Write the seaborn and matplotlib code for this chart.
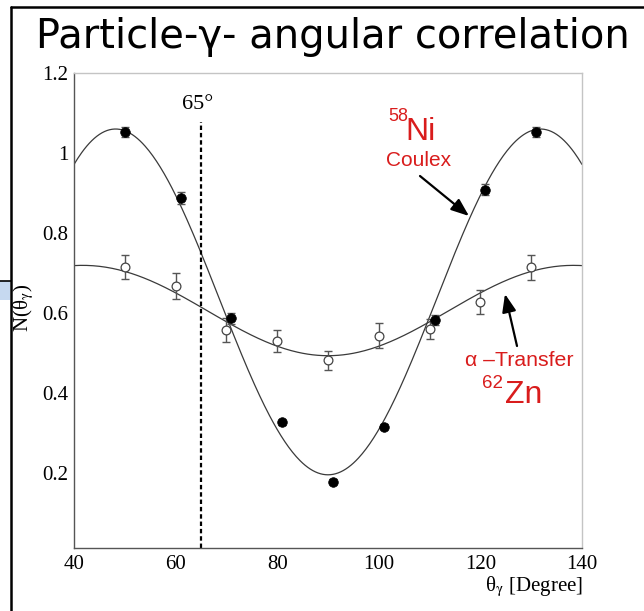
import numpy as np
import pandas as pd
import matplotlib
matplotlib.use("Agg")
import matplotlib.pyplot as plt
import seaborn as sns
from matplotlib.lines import Line2D
from matplotlib.patches import Rectangle
from matplotlib.ticker import MultipleLocator, FixedLocator

# ---------------- data ----------------
ni_theta = [50, 61, 71, 81, 91, 101, 111, 121, 131]
ni_counts = [1.053, 0.887, 0.587, 0.327, 0.178, 0.316, 0.583, 0.908, 1.053]
ni_err = [0.012, 0.015, 0.014, 0.006, 0.006, 0.006, 0.013, 0.014, 0.012]

zn_theta = [50, 60, 70, 80, 90, 100, 110, 120, 130]
zn_counts = [0.715, 0.667, 0.558, 0.530, 0.482, 0.543, 0.560, 0.627, 0.714]
zn_err = [0.030, 0.033, 0.030, 0.028, 0.024, 0.031, 0.026, 0.030, 0.031]

# Legendre fit coefficients W = c0 + c2 P2(cos) + c4 P4(cos)
ni_fit_coeffs = [0.617, 0.093, -1.0]
zn_fit_coeffs = [0.618, 0.125, -0.166]

x_ticks = [40, 60, 80, 100, 120, 140]
y_ticks = [0.2, 0.4, 0.6, 0.8, 1.0, 1.2]
y_tick_labels = ["0.2", "0.4", "0.6", "0.8", "1", "1.2"]
title_text = "Particle-\u03b3- angular correlation"
cut_angle = 65

# ---------------- figure ----------------
sns.set_theme(style="white")
plt.rcParams["font.family"] = ["Liberation Serif", "DejaVu Serif"]
plt.rcParams["mathtext.fontset"] = "stix"

W, H = 644, 611
fig = plt.figure(figsize=(W / 100, H / 100), dpi=100)
fig.patch.set_facecolor("white")

def fx(px):
    return px / W

def fy(py):
    return 1 - py / H

ax = fig.add_axes([fx(74), fy(548), fx(582) - fx(74), fy(73) - fy(548)])
ax.set_facecolor("white")

def legendre_curve(coeffs, theta):
    c = np.cos(np.radians(theta))
    p2 = 0.5 * (3 * c**2 - 1)
    p4 = (35 * c**4 - 30 * c**2 + 3) / 8
    return coeffs[0] + coeffs[1] * p2 + coeffs[2] * p4

grid = np.linspace(40, 140, 401)
curves = pd.concat([
    pd.DataFrame({"theta": grid, "N": legendre_curve(ni_fit_coeffs, grid), "set": "Ni"}),
    pd.DataFrame({"theta": grid, "N": legendre_curve(zn_fit_coeffs, grid), "set": "Zn"}),
])
sns.lineplot(data=curves, x="theta", y="N", units="set", estimator=None,
             color="#3a3a3a", lw=0.9, ax=ax, legend=False)

ni_df = pd.DataFrame({"theta": ni_theta, "N": ni_counts, "err": ni_err})
zn_df = pd.DataFrame({"theta": zn_theta, "N": zn_counts, "err": zn_err})

ax.errorbar(zn_df["theta"], zn_df["N"], yerr=zn_df["err"], fmt="none",
            ecolor="#555555", elinewidth=1.0, capsize=3.2, capthick=1.0, zorder=3)
ax.errorbar(ni_df["theta"], ni_df["N"], yerr=ni_df["err"], fmt="none",
            ecolor="#555555", elinewidth=1.0, capsize=3.2, capthick=1.0, zorder=3)
sns.scatterplot(data=zn_df, x="theta", y="N", marker="o", s=40,
                facecolor="white", edgecolor="#444444", linewidth=0.9, ax=ax, zorder=4)
sns.scatterplot(data=ni_df, x="theta", y="N", marker="o", s=48,
                color="black", edgecolor="black", linewidth=0.5, ax=ax, zorder=5)

# dashed 65 degree line
ax.vlines(cut_angle, 0.0125, 1.077, colors="black", linestyles=(0, (2.0, 1.3)), lw=1.6, zorder=2)
ax.text(cut_angle - 0.6, 1.122, "65\u00b0", ha="center", va="center", fontsize=16, color="black")

ax.set_xlim(40, 140)
ax.set_ylim(0.0125, 1.2)
ax.xaxis.set_major_locator(FixedLocator(x_ticks))
ax.xaxis.set_minor_locator(MultipleLocator(5))
ax.yaxis.set_major_locator(FixedLocator(y_ticks))
ax.set_yticklabels(y_tick_labels)
ax.yaxis.set_minor_locator(MultipleLocator(0.05))
ax.set_xlabel("")
ax.set_ylabel("")
ax.tick_params(which="major", direction="in", length=7.5, width=0.9, color="#444444",
               labelsize=15, top=False, right=False, labelcolor="black")
ax.tick_params(axis="x", which="major", pad=5)
ax.tick_params(axis="y", which="major", pad=4)
ax.tick_params(which="minor", direction="in", length=3.6, width=0.8, color="#666666",
               top=False, right=False)
for side in ["left", "bottom"]:
    ax.spines[side].set_color("#555555")
    ax.spines[side].set_linewidth(1.0)
for side in ["top", "right"]:
    ax.spines[side].set_color("#c4c4c4")
    ax.spines[side].set_linewidth(1.0)

# axis labels (upright theta and gamma as in the reference)
fig.text(fx(24), fy(308), r"N(θ$_{\mathrm{γ}}$)", rotation=90, ha="center", va="center",
         fontsize=15, color="black")
fig.text(fx(583), fy(587), r"θ$_{\mathrm{γ}}$ [Degree]", ha="right", va="center",
         fontsize=15, color="black")

# red annotations
red = "#d91c1c"
sans = ["Liberation Sans", "DejaVu Sans"]
fig.text(fx(388), fy(117), "58", ha="left", va="center", fontsize=13, color=red, family=sans)
fig.text(fx(405), fy(132), "Ni", ha="left", va="center", fontsize=23, color=red, family=sans)
fig.text(fx(386), fy(160), "Coulex", ha="left", va="center", fontsize=15, color=red, family=sans)
fig.text(fx(465), fy(360), "\u03b1 \u2013Transfer", ha="left", va="center", fontsize=15.3, color=red, family=sans)
fig.text(fx(482), fy(384), "62", ha="left", va="center", fontsize=13.5, color=red, family=sans)
fig.text(fx(505), fy(395), "Zn", ha="left", va="center", fontsize=23, color=red, family=sans)

arrow_kw = dict(arrowstyle="-|>,head_length=0.9,head_width=0.35", color="black", lw=1.6,
                shrinkA=0, shrinkB=0)
ax.annotate("", xy=(fx(469), fy(216)), xytext=(fx(420), fy(176)),
            xycoords="figure fraction", textcoords="figure fraction", arrowprops=arrow_kw)
ax.annotate("", xy=(fx(505), fy(294)), xytext=(fx(517), fy(346)),
            xycoords="figure fraction", textcoords="figure fraction", arrowprops=arrow_kw)

# title
fig.text(fx(333), fy(37), title_text, ha="center", va="center", fontsize=28.8,
         color="black", family=["DejaVu Sans"])

# slide frame decorations
fig.add_artist(Rectangle((0, fy(300)), fx(10), fy(281) - fy(300), transform=fig.transFigure,
                         facecolor="#c6d9f0", edgecolor="none"))
fig.add_artist(Line2D([0, fx(11)], [fy(281), fy(281)], transform=fig.transFigure, color="black", lw=1.2))
fig.add_artist(Line2D([fx(11), fx(11)], [0, fy(7)], transform=fig.transFigure, color="black", lw=1.8))
fig.add_artist(Line2D([fx(11), 1], [fy(7), fy(7)], transform=fig.transFigure, color="black", lw=1.8))

fig.savefig("out.png", dpi=100)
